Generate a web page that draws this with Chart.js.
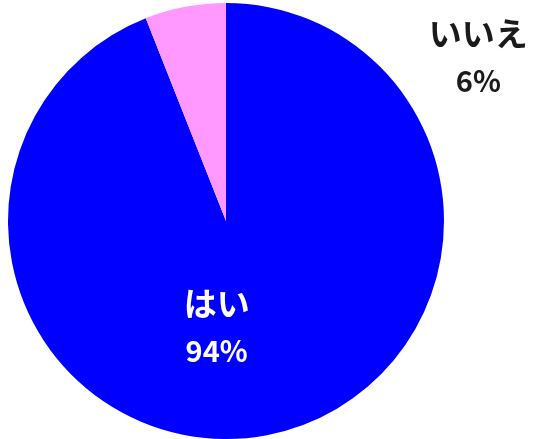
<!DOCTYPE html>
<html>
<head>
<meta charset="utf-8">
<script src="https://cdn.jsdelivr.net/npm/chart.js@4"></script>
<style>
  html, body { margin: 0; padding: 0; background: #ffffff; }
  #chart { display: block; }
</style>
</head>
<body>
<canvas id="chart" width="539" height="439"></canvas>
<script>
const categories = ["はい", "いいえ"];
const percentValues = [94, 6];
const sliceColors = ["#0000ff", "#ff99ff"];
// where each label sits, as angle (deg) + fraction of radius from the pie centre
const labelSpots = [
  { angle: 95, frac: 0.49, color: "#ffffff" },
  { angle: -33, frac: 1.38, color: "#1a1a1a" }
];

const JP_FONT = '"Noto Sans CJK JP", "Noto Sans", sans-serif';

const pieLabelPlugin = {
  id: "pieLabels",
  afterDatasetsDraw(chart) {
    const ctx = chart.ctx;
    const meta = chart.getDatasetMeta(0);
    meta.data.forEach((arc, i) => {
      const spot = labelSpots[i];
      const rad = (spot.angle * Math.PI) / 180;
      const r = arc.outerRadius * spot.frac;
      const x = arc.x + Math.cos(rad) * r;
      const y = arc.y + Math.sin(rad) * r;
      ctx.save();
      ctx.fillStyle = spot.color;
      ctx.textAlign = "center";
      ctx.textBaseline = "middle";
      ctx.font = `bold 33px ${JP_FONT}`;
      ctx.fillText(categories[i], x, y - 24);
      ctx.font = `bold 29px ${JP_FONT}`;
      ctx.fillText(`${percentValues[i]}%`, x, y + 24);
      ctx.restore();
    });
  }
};

new Chart(document.getElementById("chart"), {
  type: "pie",
  data: {
    labels: categories,
    datasets: [
      {
        data: percentValues,
        backgroundColor: sliceColors,
        borderWidth: 0
      }
    ]
  },
  options: {
    responsive: false,
    animation: false,
    layout: { padding: { left: 8, right: 95, top: 3, bottom: 0 } },
    plugins: {
      legend: { display: false },
      tooltip: { enabled: false }
    }
  },
  plugins: [pieLabelPlugin]
});
</script>
</body>
</html>
